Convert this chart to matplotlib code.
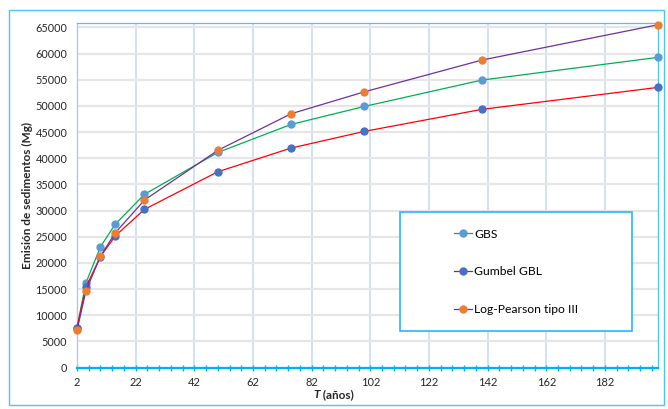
import matplotlib
matplotlib.use('Agg')
import matplotlib.pyplot as plt
import numpy as np
from matplotlib.patches import Rectangle
from matplotlib.lines import Line2D

plt.rcParams['font.family'] = ['Lato', 'DejaVu Sans']

# Periodo de retorno (años) y emisión de sedimentos (Mg)
T = [2, 5, 10, 15, 25, 50, 75, 100, 140, 200]
gbs = [7600, 16100, 23080, 27360, 33100, 41100, 46460, 49900, 54930, 59270]
gumbel = [7600, 15300, 21200, 25120, 30220, 37410, 41940, 45130, 49330, 53530]
log_pearson = [7100, 14560, 21300, 25700, 32000, 41500, 48500, 52690, 58750, 65500]

series = [
    ('GBS', gbs, '#00b050', '#5b9bd5'),
    ('Gumbel GBL', gumbel, '#ff0000', '#4472c4'),
    ('Log-Pearson tipo III', log_pearson, '#7030a0', '#ed7d31'),
]

fig = plt.figure(figsize=(6.68, 4.09), dpi=100)
ax = fig.add_axes([77 / 668, 41.5 / 409, 580.7 / 668, 344.8 / 409])

handles = []
for nombre, valores, color_linea, color_marca in series:
    ax.plot(T, valores, color=color_linea, lw=0.9, marker='o', ms=5,
            mfc=color_marca, mec=color_marca, zorder=3, clip_on=False)
    handles.append(Line2D([], [], color=color_linea, lw=0.9, marker='o', ms=5,
                          mfc=color_marca, mec=color_marca, label=nombre))

ax.set_xlim(2, 200)
ax.set_ylim(0, 65900)
ax.set_xticks(np.arange(2, 201, 20))
ax.set_xticks(np.arange(2, 201, 4), minor=True)
ax.set_yticks(np.arange(0, 65001, 5000))

ax.grid(axis='x', which='major', color='#c5d9f1', lw=1.1)
ax.grid(axis='y', color='#e6e6e6', lw=1.6)
ax.set_axisbelow(True)

cian = '#00b0f0'
ax.spines['bottom'].set_color(cian)
ax.spines['bottom'].set_linewidth(1.6)
ax.spines['left'].set_color('#b4c7e7')
ax.spines['left'].set_linewidth(1.0)
for lado in ['top', 'right']:
    ax.spines[lado].set_color('#4fc3f7')
    ax.spines[lado].set_linestyle((0, (1, 1)))
    ax.spines[lado].set_linewidth(0.9)

ax.tick_params(axis='x', which='both', direction='inout', length=5, width=1.0,
               color=cian, labelsize=8, labelcolor='#262626', pad=4)
ax.tick_params(axis='y', length=0, labelsize=7.8, labelcolor='#262626', pad=7)

ax.set_ylabel('Emisión de sedimentos (Mg)', fontsize=8.5, fontweight='bold',
              color='#262626')
ax.yaxis.set_label_coords((33 - 77) / 580.7, 0.5)

t1 = fig.text(313 / 668, 9 / 409, 'T', fontsize=8.5, fontweight='bold',
              style='italic', color='#262626', va='bottom')
ax.annotate(' (años)', xy=(1, 0), xycoords=t1, va='bottom', fontsize=8.5,
            fontweight='bold', color='#262626')

# caja de la leyenda
x0, x1 = (400 - 77) / 580.7, (632.3 - 77) / 580.7
y0, y1 = (367.5 - 331) / 344.8, (367.5 - 212.3) / 344.8
ax.add_patch(Rectangle((x0, y0), x1 - x0, y1 - y0, transform=ax.transAxes,
                       facecolor='white', edgecolor='#29b6f6', lw=1.2, zorder=5))
leg = ax.legend(handles=handles, loc='center', bbox_to_anchor=((x0 + x1) / 2, (y0 + y1) / 2),
                frameon=False, fontsize=8.7, labelspacing=2.2, handlelength=1.5,
                handletextpad=0.2)
leg.set_zorder(6)

# borde del gráfico
fig.patches.append(Rectangle((9 / 668, 4 / 409), 655 / 668, 395 / 409,
                             transform=fig.transFigure, fill=False,
                             edgecolor='#4fc3f7', lw=1.0))

plt.savefig('out.png', dpi=100)
plt.close()
